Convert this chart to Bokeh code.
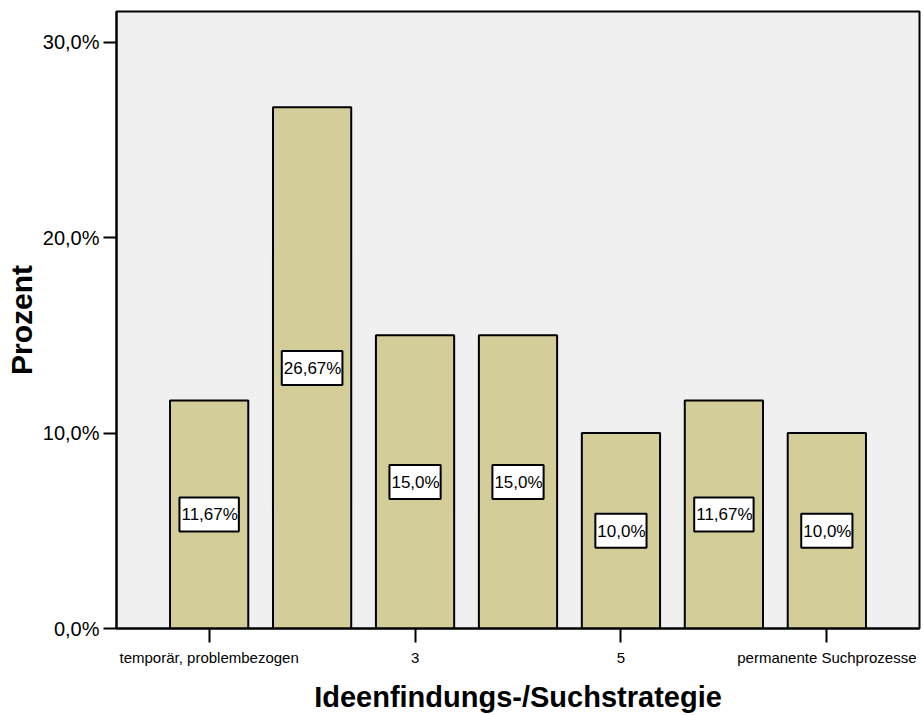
from bokeh.plotting import figure
from bokeh.models import ColumnDataSource, FixedTicker, Range1d
from bokeh.core.properties import value
from bokeh.embed import file_html
from bokeh.resources import INLINE

# Share of answers per category of the idea-finding / search strategy scale
positions = [1, 2, 3, 4, 5, 6, 7]
percent = [11.67, 26.67, 15.0, 15.0, 10.0, 11.67, 10.0]
tick_positions = [1, 3, 5, 7]
tick_labels = ["temporär, problembezogen", "3", "5", "permanente Suchprozesse"]
y_ticks = [0, 10, 20, 30]


def de_percent(v):
    s = f"{v:.2f}".rstrip("0")
    if s.endswith("."):
        s += "0"
    return s.replace(".", ",") + "%"


FONT = "Liberation Sans"
BAR_COLOR = "#D3CE99"

src = ColumnDataSource(dict(
    x=positions,
    top=percent,
    mid=[v / 2 for v in percent],
    label=[de_percent(v) for v in percent],
))

p = figure(
    width=923, height=715,
    x_range=Range1d(0.1, 7.9), y_range=Range1d(0, 31.57),
    output_backend="svg", toolbar_location=None,
    min_border_left=116, min_border_right=4,
    min_border_top=11, min_border_bottom=85,
)
p.background_fill_color = "#F0F0F0"
p.border_fill_color = "white"
p.outline_line_color = "black"
p.outline_line_width = 2
p.xgrid.visible = False
p.ygrid.visible = False

p.vbar(x="x", top="top", width=0.76, bottom=0, source=src,
       fill_color=BAR_COLOR, line_color="black", line_width=2)

p.text(x="x", y="mid", text="label", source=src,
       text_font=value(FONT), text_font_size=value("17px"),
       text_color="black", text_align="center", text_baseline="middle",
       background_fill_color="white", border_line_color="black",
       border_line_width=2,
       padding=dict(left=2, right=1, top=8, bottom=7))

# x axis
xa = p.xaxis[0]
xa.ticker = FixedTicker(ticks=tick_positions)
xa.major_label_overrides = {t: l for t, l in zip(tick_positions, tick_labels)}
xa.major_tick_out = 14
xa.major_tick_in = 0
xa.minor_tick_out = 0
xa.minor_tick_in = 0
xa.major_tick_line_width = 2
xa.axis_line_width = 2
xa.major_label_text_font = FONT
xa.major_label_text_font_size = "15px"
xa.major_label_text_color = "black"
xa.major_label_standoff = 6
xa.axis_label = "Ideenfindungs-/Suchstrategie"
xa.axis_label_text_font = FONT
xa.axis_label_text_font_size = "29px"
xa.axis_label_text_font_style = "bold"
xa.axis_label_text_color = "black"
xa.axis_label_standoff = 12

# y axis
ya = p.yaxis[0]
ya.ticker = FixedTicker(ticks=y_ticks)
ya.major_label_overrides = {t: de_percent(float(t)) for t in y_ticks}
ya.major_tick_out = 13
ya.major_tick_in = 0
ya.minor_tick_out = 0
ya.minor_tick_in = 0
ya.major_tick_line_width = 2
ya.axis_line_width = 2
ya.major_label_text_font = FONT
ya.major_label_text_font_size = "20px"
ya.major_label_text_color = "black"
ya.major_label_standoff = 4
ya.axis_label = "Prozent"
ya.axis_label_text_font = FONT
ya.axis_label_text_font_size = "30px"
ya.axis_label_text_font_style = "bold"
ya.axis_label_text_color = "black"
ya.axis_label_standoff = 2

open("out.html", "w").write(file_html(p, INLINE))
